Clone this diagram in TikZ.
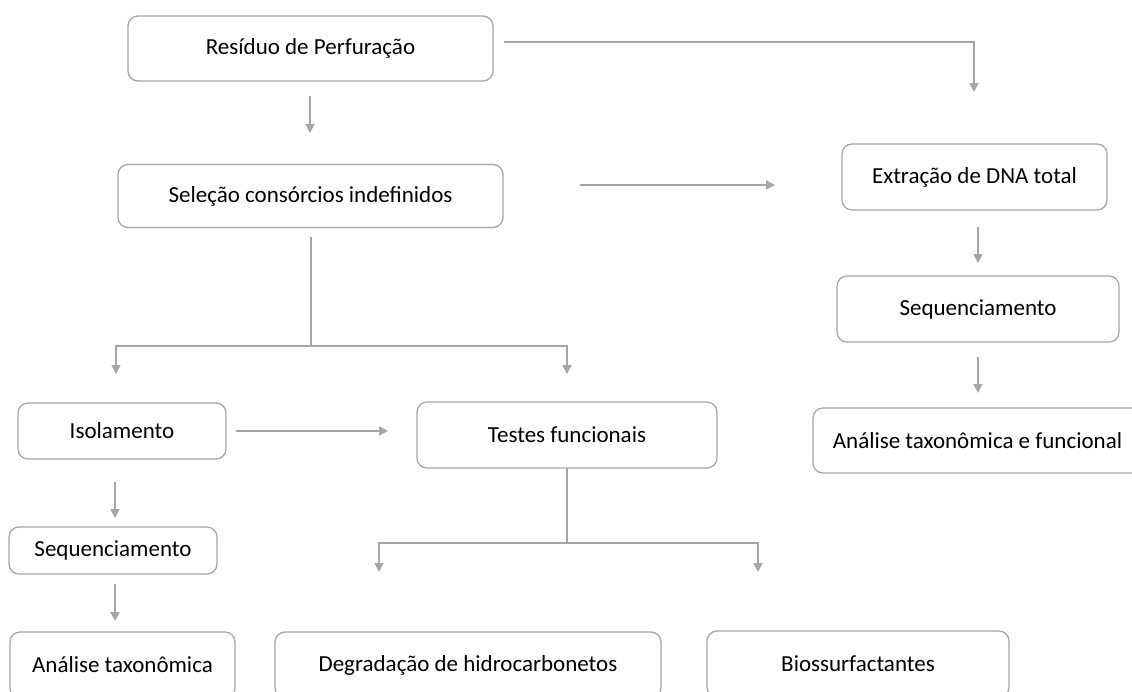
\documentclass[tikz,border=0pt]{standalone}
\usepackage{fontspec}
\setmainfont{Carlito}
\usetikzlibrary{arrows.meta}
\definecolor{lc}{HTML}{A6A6A6}
\definecolor{bc}{HTML}{A6A6A6}
\begin{document}
\begin{tikzpicture}[x=1pt,y=-1pt,
 box/.style={draw=bc, line width=1.3pt, rounded corners=10pt, fill=white, inner sep=0pt,
   font=\fontsize{23}{27}\selectfont, text=black},
 conn/.style={draw=lc, line width=1.5pt},
 tip/.tip={Triangle[width=9pt,length=9pt]},
 arr/.style={conn, -tip}]
\useasboundingbox (0,0) rectangle (1132,691);
\clip (0,0) rectangle (1132,691);
\fill[white] (0,0) rectangle (1132,691);

% boxes
\node[box, minimum width=365pt, minimum height=65pt] (res) at (310.5,48.5) {Resíduo de Perfuração};
\node[box, minimum width=385pt, minimum height=63pt] (sel) at (310.5,196) {Seleção consórcios indefinidos};
\node[box, minimum width=265pt, minimum height=66pt] (ext) at (974.5,177) {Extração de DNA total};
\node[box, minimum width=282pt, minimum height=66pt] (seqr) at (978,309) {Sequenciamento};
\node[box, minimum width=329pt, minimum height=65pt] (anf) at (977.5,440.5) {Análise taxonômica e funcional};
\node[box, minimum width=208pt, minimum height=56pt] (iso) at (122,431) {Isolamento};
\node[box, minimum width=300pt, minimum height=66pt] (tes) at (567,435) {Testes funcionais};
\node[box, minimum width=208pt, minimum height=47pt] (seql) at (113,550.5) {Sequenciamento};
\node[box, minimum width=225pt, minimum height=66pt] (ant) at (122.5,665) {Análise taxonômica};
\node[box, minimum width=386pt, minimum height=66pt] (deg) at (468,665) {Degradação de hidrocarbonetos};
\node[box, minimum width=302pt, minimum height=66pt] (bio) at (858,664) {Biossurfactantes};

% connector end points
\coordinate (c1a) at (504,42);   \coordinate (c1b) at (974,92);
\coordinate (c2a) at (310,96);   \coordinate (c2b) at (310,133);
\coordinate (c3a) at (580,185);  \coordinate (c3b) at (775,185);
\coordinate (c4a) at (311,237);  \coordinate (c4m) at (311,346);
\coordinate (c4l) at (116,374);  \coordinate (c4r) at (567,374);
\coordinate (c5a) at (236,431);  \coordinate (c5b) at (388,431);
\coordinate (c6a) at (115,482);  \coordinate (c6b) at (115,518);
\coordinate (c7a) at (115,584);  \coordinate (c7b) at (115,621);
\coordinate (c8a) at (978,227);  \coordinate (c8b) at (978,263);
\coordinate (c9a) at (978,357);  \coordinate (c9b) at (978,393);
\coordinate (c10a) at (567,468); \coordinate (c10m) at (567,543);
\coordinate (c10l) at (379,572); \coordinate (c10r) at (758,572);

% connectors
\draw[arr] (c1a) -| (c1b);
\draw[arr] (c2a) -- (c2b);
\draw[arr] (c3a) -- (c3b);
\draw[conn] (c4a) -- (c4m);
\draw[conn, tip-tip] (c4l) |- (c4m) -| (c4r);
\draw[arr] (c5a) -- (c5b);
\draw[arr] (c6a) -- (c6b);
\draw[arr] (c7a) -- (c7b);
\draw[arr] (c8a) -- (c8b);
\draw[arr] (c9a) -- (c9b);
\draw[conn] (c10a) -- (c10m);
\draw[conn, tip-tip] (c10l) |- (c10m) -| (c10r);
\end{tikzpicture}
\end{document}
